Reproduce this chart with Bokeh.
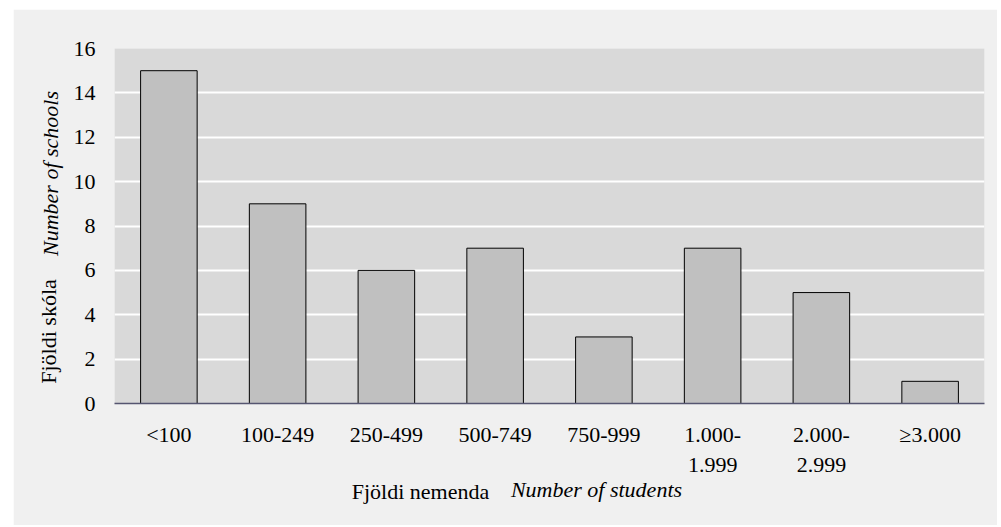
from bokeh.plotting import figure
from bokeh.models import ColumnDataSource, FixedTicker, LinearAxis, Range1d
from bokeh.embed import file_html
from bokeh.resources import INLINE

categories = ["<100", "100-249", "250-499", "500-749", "750-999",
              "1.000-\n1.999", "2.000-\n2.999", "\u22653.000"]
schools = [15, 9, 6, 7, 3, 7, 5, 1]
y_ticks = [0, 2, 4, 6, 8, 10, 12, 14, 16]

x_title = ["Fjöldi nemenda", "Number of students"]
y_title = ["Fjöldi skóla", "Number of schools"]

x_pos = list(range(len(categories)))
src = ColumnDataSource(dict(x=x_pos, top=schools))

FONT = "Liberation Serif"
FONT_IT = "'Liberation Serif', 'DejaVu Serif', serif"
FW, FH = 870, 355  # frame size in px

p = figure(width=984, height=516, output_backend="svg", toolbar_location=None,
           x_range=Range1d(-0.5, len(categories) - 0.5), y_range=Range1d(0, 16),
           min_border_left=101, min_border_right=13, min_border_top=39, min_border_bottom=122)
p.margin = (9, 0, 0, 13)

p.background_fill_color = "#d9d9d9"
p.border_fill_color = "#f0f0f0"
p.outline_line_color = None

p.vbar(x="x", top="top", width=0.52, source=src, fill_color="#c0c0c0",
       line_color="#000000", line_width=1)

p.xgrid.grid_line_color = None
p.ygrid.grid_line_color = "#ffffff"
p.ygrid.grid_line_width = 2
p.ygrid.ticker = FixedTicker(ticks=y_ticks)


def style_axis(ax, standoff, font=FONT):
    ax.axis_line_color = None
    ax.major_tick_line_color = None
    ax.major_tick_out = 0
    ax.major_tick_in = 0
    ax.minor_tick_line_color = None
    ax.major_label_standoff = standoff
    ax.major_label_text_font = font
    ax.major_label_text_font_size = "22px"
    ax.major_label_text_color = "#000000"


p.yaxis.ticker = FixedTicker(ticks=y_ticks)
style_axis(p.yaxis[0], 19)

p.xaxis.ticker = FixedTicker(ticks=x_pos)
p.xaxis.major_label_overrides = {i: c for i, c in zip(x_pos, categories)}
style_axis(p.xaxis[0], 18)
p.xaxis.axis_line_color = "#555570"
p.xaxis.axis_line_width = 1.5

# Axis titles built from extra axes (label pieces positioned in frame pixels)
p.extra_x_ranges = {"px": Range1d(0, FW)}
p.extra_y_ranges = {"py": Range1d(0, FH)}

xa = LinearAxis(x_range_name="px", ticker=FixedTicker(ticks=[306]),
                major_label_overrides={306: x_title[0]})
style_axis(xa, -1)
p.add_layout(xa, "below")
xb = LinearAxis(x_range_name="px", ticker=FixedTicker(ticks=[482]),
                major_label_overrides={482: x_title[1]})
style_axis(xb, -30, FONT_IT)
xb.major_label_text_font_style = "italic"
p.add_layout(xb, "below")

ya = LinearAxis(y_range_name="py", ticker=FixedTicker(ticks=[72]),
                major_label_overrides={72: y_title[0]}, major_label_orientation="vertical")
style_axis(ya, 10)
p.add_layout(ya, "left")
yb = LinearAxis(y_range_name="py", ticker=FixedTicker(ticks=[230]),
                major_label_overrides={230: y_title[1]}, major_label_orientation="vertical")
style_axis(yb, -30, FONT_IT)
yb.major_label_text_font_style = "italic"
p.add_layout(yb, "left")

open("out.html", "w").write(file_html(p, INLINE))
